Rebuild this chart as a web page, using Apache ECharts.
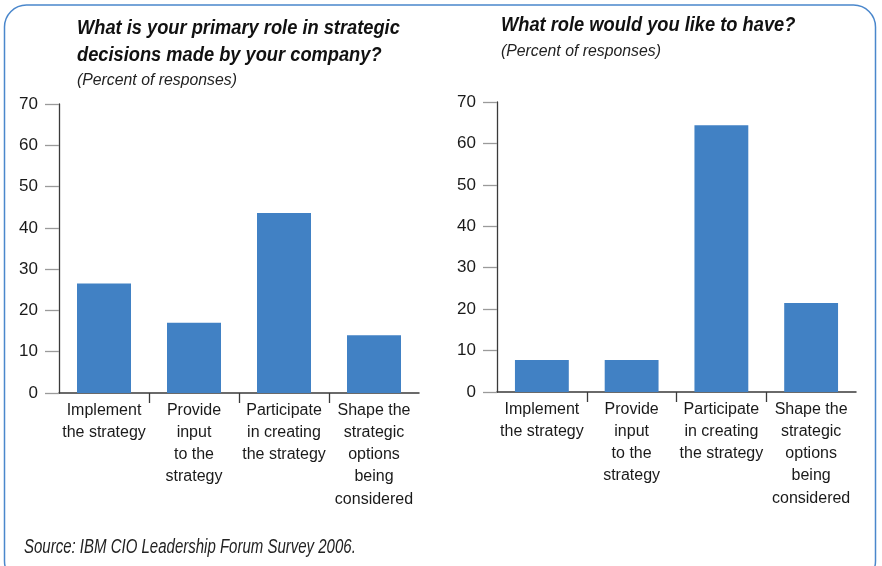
<!DOCTYPE html>
<html>
<head>
<meta charset="utf-8">
<title>CIO roles in strategic decisions</title>
<script src="https://cdn.jsdelivr.net/npm/echarts@6/dist/echarts.min.js"></script>
<style>
  html, body { margin: 0; padding: 0; background: #fff; }
  #chart { width: 882px; height: 566px; }
</style>
</head>
<body>
<div id="chart"></div>
<script>
// Survey answers, percent of responses
const categories = [
  'Implement\nthe strategy',
  'Provide\ninput\nto the\nstrategy',
  'Participate\nin creating\nthe strategy',
  'Shape the\nstrategic\noptions\nbeing\nconsidered'
];
const currentRole = [26.5, 17, 43.6, 14];
const desiredRole = [7.7, 7.7, 64.4, 21.5];
const yTicks = { min: 0, max: 70, interval: 10 };
// separators drawn between neighbouring categories
const dividerTicks = [1, 2, 3];

const leftTitle = 'What is your primary role in strategic\ndecisions made by your company?';
const rightTitle = 'What role would you like to have?';
const subTitle = '(Percent of responses)';
const sourceNote = 'Source: IBM CIO Leadership Forum Survey 2006.';

const SANS = '"Liberation Sans", Arial, sans-serif';
const BAR = '#4181c4';

function yAxis(idx) {
  return {
    type: 'value', gridIndex: idx,
    min: yTicks.min, max: yTicks.max, interval: yTicks.interval,
    axisLine: { show: true, lineStyle: { color: '#3a3a3a', width: 1.3 } },
    axisTick: { show: true, inside: false, length: 14, lineStyle: { color: '#9a9a9a', width: 1.3 } },
    axisLabel: { margin: 21, fontFamily: SANS, fontSize: 17, color: '#1a1a1a' },
    splitLine: { show: false }
  };
}
function xAxis(idx) {
  return {
    type: 'category', gridIndex: idx, data: categories, boundaryGap: true,
    axisLine: { show: true, lineStyle: { color: '#3a3a3a', width: 1.5 } },
    axisTick: { show: false },
    axisLabel: { margin: 6, interval: 0, fontFamily: SANS, fontSize: 16, lineHeight: 22.3, color: '#1a1a1a', align: 'center' }
  };
}
// companion axis over the same span that carries only the separator ticks
function dividerAxis(idx) {
  return {
    type: 'value', gridIndex: idx, position: 'bottom',
    min: 0, max: categories.length,
    axisLine: { show: false },
    axisLabel: { show: false },
    splitLine: { show: false },
    axisTick: { show: true, length: 10, customValues: dividerTicks, lineStyle: { color: '#3a3a3a', width: 1.3 } }
  };
}

// Condensed-looking heading text: a regular face squeezed horizontally
function heading(text, x, y, opts) {
  return {
    type: 'text', x: x, y: y, scaleX: opts.scaleX || 1, silent: true,
    style: {
      text: text, fill: opts.color || '#111',
      font: opts.font, lineHeight: opts.lineHeight,
      align: 'left', verticalAlign: 'middle'
    }
  };
}

const chart = echarts.init(document.getElementById('chart'), null, { renderer: 'canvas' });
chart.setOption({
  animation: false,
  backgroundColor: '#fff',
  grid: [
    { left: 59, right: 463, top: 104, bottom: 173 },
    { left: 497, right: 26, top: 102, bottom: 174 }
  ],
  xAxis: [xAxis(0), xAxis(1), dividerAxis(0), dividerAxis(1)],
  yAxis: [yAxis(0), yAxis(1)],
  series: [
    { type: 'bar', xAxisIndex: 0, yAxisIndex: 0, data: currentRole, barWidth: '60%', itemStyle: { color: BAR } },
    { type: 'bar', xAxisIndex: 1, yAxisIndex: 1, data: desiredRole, barWidth: '60%', itemStyle: { color: BAR } }
  ],
  graphic: [
    { type: 'rect', silent: true, z: -1,
      shape: { x: 4.5, y: 5, width: 871, height: 578, r: 22 },
      style: { fill: 'none', stroke: '#4a87cc', lineWidth: 1.5 } },
    heading(leftTitle, 77, 41.5, { font: 'italic bold 21px ' + SANS, lineHeight: 27, scaleX: 0.87 }),
    heading(subTitle, 77, 80, { font: 'italic 17px ' + SANS, scaleX: 0.93, color: '#222' }),
    heading(rightTitle, 501, 25.5, { font: 'italic bold 21px ' + SANS, lineHeight: 27, scaleX: 0.87 }),
    heading(subTitle, 501, 51, { font: 'italic 17px ' + SANS, scaleX: 0.93, color: '#222' }),
    heading(sourceNote, 24, 547.5, { font: 'italic 20px ' + SANS, scaleX: 0.75, color: '#222' })
  ]
});
</script>
</body>
</html>
